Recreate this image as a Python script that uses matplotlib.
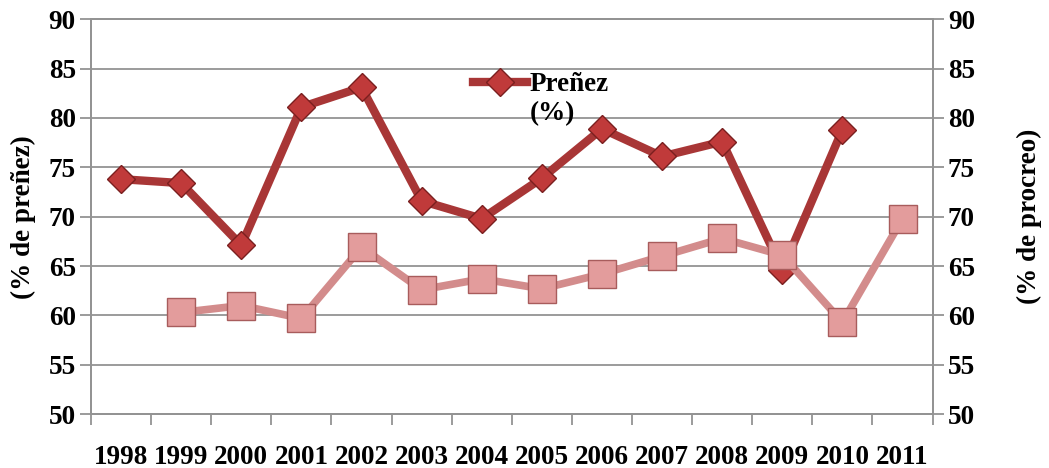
import numpy as np
import matplotlib.pyplot as plt
from matplotlib.ticker import FixedLocator

plt.rcParams['font.family'] = ['Liberation Serif', 'DejaVu Serif']
plt.rcParams['font.weight'] = 'bold'

# data
years = ['1998', '1999', '2000', '2001', '2002', '2003', '2004',
         '2005', '2006', '2007', '2008', '2009', '2010', '2011']
prenez = [73.8, 73.4, 67.1, 81.1, 83.1, 71.6, 69.8,
          73.9, 78.9, 76.1, 77.6, 64.6, 78.8, np.nan]
procreo = [np.nan, 60.3, 61.0, 59.7, 66.9, 62.6, 63.7,
           62.7, 64.2, 66.0, 67.8, 66.1, 59.3, 69.8]
yticks = [50, 55, 60, 65, 70, 75, 80, 85, 90]

grid_col = '#939393'
fs = 19.5

fig = plt.figure(figsize=(10.49, 4.68), dpi=100)
ax = fig.add_axes([0.0868, 0.115, 0.8022, 0.844])
ax2 = ax.twinx()

x = np.arange(len(years))

ax.plot(x, prenez, color='#a83636', lw=6, marker='D', markersize=14,
        markerfacecolor='#c03a3a', markeredgecolor='#7a1f1f', markeredgewidth=1,
        label='Preñez', zorder=3)
ax2.plot(x, procreo, color='#d38c8c', lw=5.5, marker='s', markersize=20,
         markerfacecolor='#e39c9c', markeredgecolor='#a85c5c', markeredgewidth=1,
         zorder=3)

for a in (ax, ax2):
    a.set_ylim(50, 90)
    a.set_yticks(yticks)
    a.set_yticklabels([str(v) for v in yticks], fontsize=fs, fontweight='bold')
    a.set_xlim(-0.5, len(years) - 0.5)
    for s in a.spines.values():
        s.set_color(grid_col)
        s.set_linewidth(1.3)
    a.tick_params(axis='y', length=8, width=1.3, color=grid_col, pad=3)

ax.grid(axis='y', color=grid_col, lw=1.3)
ax.set_axisbelow(True)

# category labels centred, tick marks on the boundaries
ax.set_xticks(x)
ax.set_xticklabels(years, fontsize=fs, fontweight='bold')
ax.tick_params(axis='x', which='major', length=0, pad=22)
ax.xaxis.set_minor_locator(FixedLocator(np.arange(-0.5, len(years), 1.0)))
ax.tick_params(axis='x', which='minor', length=8, width=1.3, color=grid_col)

ax.set_ylabel('(% de preñez)', fontsize=fs, fontweight='bold', labelpad=9)
ax2.set_ylabel('(% de procreo)', fontsize=fs, fontweight='bold', rotation=90, labelpad=30)

leg = ax.legend(loc='upper left', bbox_to_anchor=(0.425, 0.928), frameon=False,
                prop={'size': fs, 'weight': 'bold'}, handlelength=2.0, handletextpad=0.1)
# second line of the legend label
ax.text(0.521, 0.762, '(%)', transform=ax.transAxes, ha='left', va='center',
        fontsize=fs, fontweight='bold', zorder=5)

fig.savefig('out.png', dpi=100)
